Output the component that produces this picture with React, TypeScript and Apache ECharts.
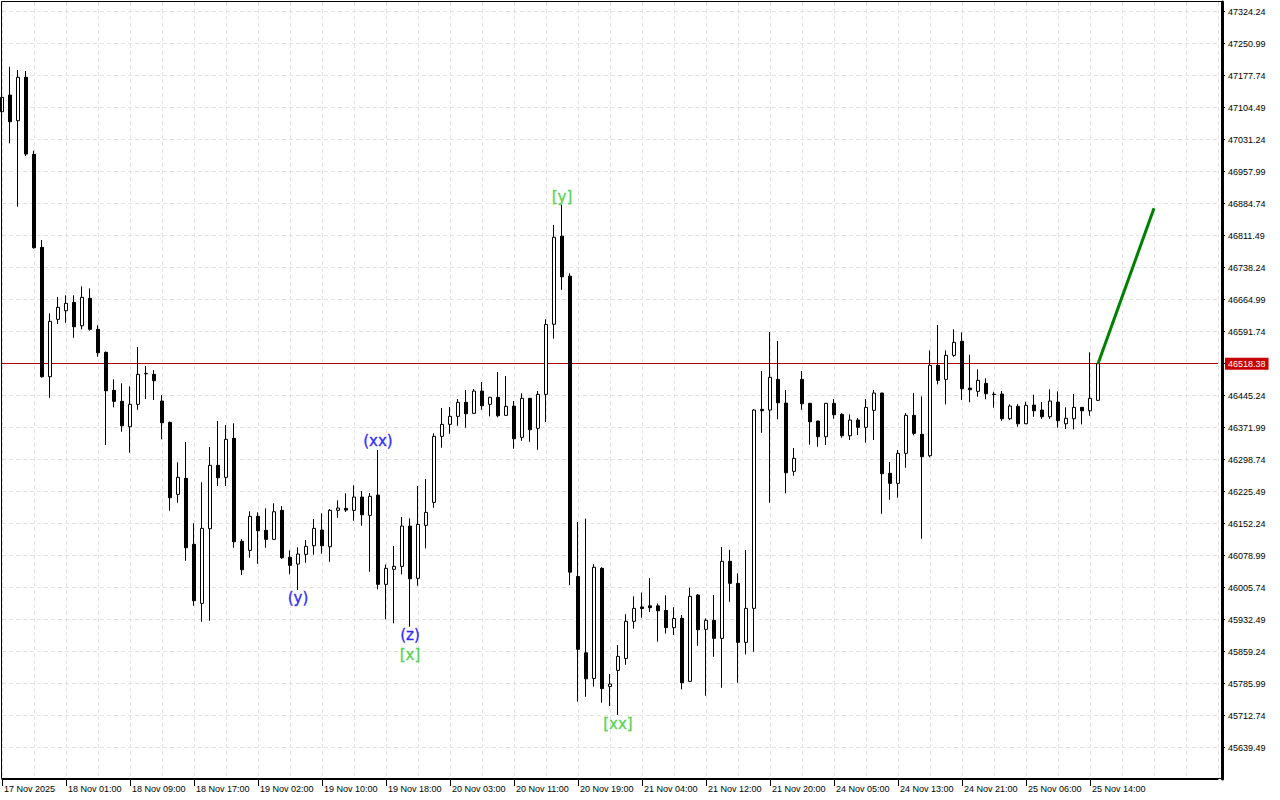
import React, { useEffect, useRef } from "react";
import * as echarts from "echarts";

// ---- time axis ----
const tickLabels = [
  "17 Nov 2025", "18 Nov 01:00", "18 Nov 09:00", "18 Nov 17:00", "19 Nov 02:00", "19 Nov 10:00",
  "19 Nov 18:00", "20 Nov 03:00", "20 Nov 11:00", "20 Nov 19:00", "21 Nov 04:00", "21 Nov 12:00",
  "21 Nov 20:00", "24 Nov 05:00", "24 Nov 13:00", "24 Nov 21:00", "25 Nov 06:00", "25 Nov 14:00",
];
const BARS_PER_TICK = 8;
const SLOT_COUNT = 153; // visible hourly slots incl. empty space to the right

// ---- price axis ----
const priceTicks = [
  45639.49, 45712.74, 45785.99, 45859.24, 45932.49, 46005.74, 46078.99, 46152.24,
  46225.49, 46298.74, 46371.99, 46445.24, 46518.49, 46591.74, 46664.99, 46738.24,
  46811.49, 46884.74, 46957.99, 47031.24, 47104.49, 47177.74, 47250.99, 47324.24,
];
const priceMin = 45567.85;
const priceMax = 47346.44;

// ---- OHLC (H1) ----
const opens = [
  47095.22, 47133.45, 47074.62, 47173.97, 46997.71, 46784.83, 46488.62, 46620.01, 46639.70, 46658.93,
  46605.36, 46668.08, 46597.12, 46544.48, 46457.49, 46432.31, 46374.17, 46425.44, 46495.26, 46494.12,
  46433.00, 46384.24, 46219.43, 46256.05, 46104.98, 45969.92, 46140.69, 46285.81, 46258.34, 46347.62,
  46111.84, 46091.24, 46169.07, 46137.02, 46116.42, 46182.80, 46075.22, 46059.88, 46082.08, 46101.77,
  46137.71, 46099.48, 46182.80, 46187.38, 46182.80, 46213.25, 46171.36, 46217.83, 46013.41, 46047.75,
  46054.62, 46146.87, 46027.15, 46148.47, 46201.12, 46352.19, 46379.66, 46397.98, 46430.02, 46404.84,
  46455.89, 46425.44, 46441.47, 46400.26, 46421.55, 46349.91, 46439.18, 46370.51, 46448.33, 46608.80,
  46810.46, 46718.90, 46031.50, 45856.61, 45798.01, 46050.04, 45779.47, 45816.55, 45843.79, 45928.72,
  45961.68, 45964.20, 45964.20, 45953.67, 45914.30, 45935.59, 45791.37, 45988.92, 45910.41, 45931.01,
  45889.80, 46066.06, 46015.70, 45880.65, 45958.48, 46414.00, 46412.40, 46482.67, 46428.42, 46272.08,
  46482.67, 46427.73, 46387.22, 46351.28, 46427.73, 46402.55, 46353.57, 46389.51, 46372.80, 46411.71,
  46451.31, 46267.50, 46244.61, 46313.28, 46400.26, 46356.77, 46307.79, 46514.72, 46482.67, 46537.61,
  46569.65, 46462.76, 46455.20, 46473.51, 46448.79, 46449.02, 46392.48, 46420.87, 46381.04, 46423.84,
  46412.40, 46397.06, 46430.71, 46381.04, 46392.48, 46418.58, 46410.79, 46434.60,
];
const closes = [
  47128.19, 47072.33, 47173.97, 46998.40, 46783.91, 46488.62, 46615.44, 46647.48, 46656.64, 46603.08,
  46670.37, 46597.12, 46543.56, 46456.58, 46432.31, 46376.46, 46425.44, 46494.12, 46496.40, 46479.47,
  46383.33, 46211.65, 46258.34, 46097.19, 45975.87, 46141.60, 46285.81, 46257.43, 46345.33, 46110.93,
  46046.83, 46169.07, 46136.11, 46116.42, 46179.60, 46074.30, 46056.91, 46082.77, 46100.40, 46141.60,
  46101.77, 46182.80, 46188.07, 46183.49, 46213.25, 46172.73, 46214.85, 46013.41, 46050.04, 46054.62,
  46146.87, 46026.23, 46150.76, 46178.23, 46352.19, 46379.66, 46397.98, 46430.02, 46403.93, 46455.89,
  46422.24, 46441.47, 46399.35, 46420.87, 46346.70, 46439.18, 46367.30, 46448.33, 46608.11, 46807.95,
  46717.30, 46041.34, 45864.62, 45797.10, 46052.56, 45774.66, 45785.19, 45848.60, 45928.72, 45958.48,
  45957.79, 45960.08, 45952.98, 45914.30, 45935.36, 45788.17, 45985.94, 45909.49, 45931.01, 45889.80,
  46066.06, 46015.70, 45880.65, 45958.48, 46412.40, 46410.79, 46487.25, 46429.11, 46268.87, 46301.84,
  46426.82, 46385.61, 46351.28, 46427.73, 46401.64, 46353.57, 46389.51, 46372.80, 46418.58, 46451.31,
  46266.58, 46244.61, 46313.28, 46400.26, 46359.06, 46305.50, 46514.72, 46480.38, 46537.61, 46567.37,
  46461.15, 46458.86, 46480.38, 46449.71, 46447.88, 46392.48, 46421.55, 46381.04, 46423.16, 46410.79,
  46397.06, 46433.00, 46387.90, 46393.40, 46418.58, 46410.79, 46439.18, 46518.38,
];
const lows = [
  47087.67, 47022.89, 46877.76, 46993.82, 46782.08, 46486.79, 46440.55, 46609.26, 46612.23, 46577.90,
  46597.12, 46594.38, 46534.40, 46332.28, 46418.58, 46362.72, 46314.65, 46413.08, 46437.58, 46435.29,
  46345.33, 46181.89, 46200.20, 46067.44, 45964.43, 45927.80, 45930.09, 46238.43, 46238.43, 46097.19,
  46034.70, 46074.30, 46060.57, 46097.19, 46114.82, 46072.01, 46036.30, 46000.37, 46062.86, 46081.17,
  46083.46, 46065.15, 46165.86, 46178.91, 46159.00, 46147.55, 46042.26, 46001.97, 45933.30, 45924.14,
  46036.30, 45916.36, 46010.21, 46095.82, 46188.76, 46326.10, 46358.15, 46376.46, 46371.88, 46403.24,
  46413.08, 46397.98, 46395.69, 46399.12, 46323.81, 46342.12, 46339.83, 46321.52, 46384.93, 46576.06,
  46687.54, 46011.58, 45744.91, 45756.12, 45779.47, 45742.62, 45734.61, 45714.46, 45829.37, 45912.01,
  45936.96, 45949.78, 45882.25, 45900.79, 45897.59, 45773.06, 45789.77, 45872.87, 45758.41, 45847.69,
  45776.72, 45973.58, 45788.17, 45853.18, 45859.13, 46360.43, 46200.20, 46391.11, 46221.72, 46262.01,
  46413.08, 46332.97, 46328.39, 46332.28, 46392.48, 46348.99, 46343.72, 46355.17, 46337.54, 46343.72,
  46175.02, 46207.07, 46211.65, 46280.32, 46354.48, 46117.79, 46304.12, 46471.23, 46425.44, 46534.40,
  46435.29, 46430.02, 46442.84, 46436.89, 46417.66, 46387.90, 46389.51, 46374.17, 46380.35, 46397.06,
  46391.79, 46391.79, 46371.88, 46368.90, 46368.22, 46379.66, 46399.35, 46434.14,
];
const highs = [
  47140.32, 47198.23, 47190.68, 47188.39, 47005.95, 46801.54, 46633.75, 46671.06, 46674.95, 46674.95,
  46695.55, 46690.98, 46606.28, 46546.31, 46482.67, 46473.51, 46466.65, 46556.61, 46513.12, 46503.96,
  46446.73, 46386.07, 46292.68, 46339.15, 46153.05, 46246.90, 46327.70, 46387.22, 46378.06, 46381.95,
  46117.11, 46180.51, 46178.23, 46187.38, 46198.83, 46192.65, 46091.24, 46098.11, 46114.82, 46162.89,
  46175.94, 46185.78, 46205.69, 46221.72, 46240.03, 46226.98, 46222.40, 46320.83, 46059.19, 46101.08,
  46167.47, 46164.49, 46238.43, 46254.45, 46359.06, 46416.97, 46419.26, 46437.58, 46458.18, 46460.47,
  46476.49, 46442.61, 46499.38, 46490.22, 46433.00, 46450.62, 46440.32, 46455.89, 46620.24, 46836.10,
  46882.57, 46725.31, 46156.02, 46164.03, 46059.65, 46052.56, 45808.31, 45874.24, 45944.97, 45985.94,
  45994.64, 46027.61, 45969.69, 45988.23, 45960.99, 45943.14, 46005.63, 45991.21, 45935.59, 45988.92,
  46098.80, 46092.61, 46038.59, 46091.93, 46414.69, 46501.67, 46590.94, 46570.34, 46458.18, 46325.41,
  46501.67, 46428.88, 46387.67, 46428.88, 46437.58, 46404.84, 46402.55, 46394.08, 46437.58, 46458.18,
  46451.77, 46293.37, 46320.83, 46405.53, 46451.31, 46443.76, 46549.05, 46606.97, 46549.05, 46597.12,
  46590.26, 46538.98, 46505.56, 46484.96, 46454.29, 46455.89, 46425.44, 46426.13, 46431.40, 46447.42,
  46430.71, 46459.78, 46455.20, 46418.58, 46449.02, 46419.26, 46544.48, 46518.38,
];

// ---- projection line ----
const forecastIndex = [137, 144];
const forecastValues = [46518.38, 46874.2];

// ---- wave labels ----
const waveTexts = ["(xx)", "(y)", "(z)", "[x]", "[y]", "[xx]"];
const waveBars = [47, 37, 51, 51, 70, 77];
const waveAnchors = ["high", "low", "low", "low", "high", "low"];

const BLUE = "#0000ff";
const GREEN = "#32cd32";
const waveStyle: Record<string, { color: string; distance: number }> = {
  "(xx)": { color: BLUE, distance: 1 },
  "(y)": { color: BLUE, distance: 0 },
  "(z)": { color: BLUE, distance: 0 },
  "[x]": { color: GREEN, distance: 20 },
  "[y]": { color: GREEN, distance: 0 },
  "[xx]": { color: GREEN, distance: 1 },
};

const AXIS_FONT = "'Liberation Sans', Arial, sans-serif";

export default function App() {
  const ref = useRef<HTMLDivElement>(null);

  useEffect(() => {
    if (!ref.current) return;
    const chart = echarts.init(ref.current, undefined, { renderer: "svg" });

    const categories = Array.from({ length: SLOT_COUNT }, (_, i) => String(i));
    const ohlc = opens.map((o, i) => [o, closes[i], lows[i], highs[i]]);
    const lastClose = closes[closes.length - 1];
    const isTimeTick = (i: number) =>
      i % BARS_PER_TICK === 0 && i / BARS_PER_TICK < tickLabels.length;

    const waveData = waveTexts.map((t, i) => {
      const idx = waveBars[i];
      const isHigh = waveAnchors[i] === "high";
      const st = waveStyle[t];
      return {
        value: [idx, isHigh ? highs[idx] : lows[idx]],
        label: {
          show: true,
          formatter: t,
          position: isHigh ? "top" : "bottom",
          distance: st.distance,
          color: st.color,
          textBorderColor: st.color,
          textBorderWidth: 0.4,
        },
      };
    });

    const gridLeft = 2;
    const gridTop = 2;
    const slotPx = 8;
    const gridWidth = slotPx * (SLOT_COUNT - 1);
    const gridHeight = 777;

    chart.setOption({
      animation: false,
      backgroundColor: "#ffffff",
      grid: {
        left: gridLeft,
        top: gridTop,
        width: gridWidth,
        height: gridHeight,
        containLabel: false,
        outerBoundsMode: "none",
      },
      xAxis: {
        type: "category",
        data: categories,
        boundaryGap: false,
        axisLine: { show: true, lineStyle: { color: "#000", width: 1 } },
        axisTick: {
          show: true,
          interval: (i: number) => isTimeTick(i),
          length: 7,
          lineStyle: { color: "#000" },
        },
        axisLabel: {
          show: true,
          interval: (i: number) => isTimeTick(i),
          align: "left",
          margin: 5,
          padding: [0, 0, 0, 2],
          fontFamily: AXIS_FONT,
          fontSize: 9,
          color: "#000",
          hideOverlap: false,
          formatter: (_v: string, i: number) =>
            isTimeTick(i) ? tickLabels[i / BARS_PER_TICK] : "",
        },
        splitLine: {
          show: true,
          interval: 3,
          lineStyle: { color: "#e3e3e3", type: [4, 3], width: 1 },
        },
      },
      yAxis: {
        type: "value",
        position: "right",
        offset: 4,
        min: priceMin,
        max: priceMax,
        scale: true,
        axisLine: { show: true, lineStyle: { color: "#000", width: 3 } },
        axisTick: { show: true, length: 3, customValues: priceTicks, lineStyle: { color: "#000" } },
        axisLabel: {
          show: true,
          customValues: priceTicks.filter((p) => Math.abs(p - lastClose) > 20),
          margin: 6,
          fontFamily: AXIS_FONT,
          fontSize: 9,
          color: "#000",
          formatter: (v: number) => v.toFixed(2),
        },
        splitLine: {
          show: true,
          lineStyle: { color: "#e3e3e3", type: [4, 3], width: 1 },
        },
      },
      series: [
        {
          type: "line",
          data: [],
          z: 1,
          markLine: {
            silent: true,
            z: 1,
            symbol: ["none", "none"],
            lineStyle: { color: "#b40000", width: 1, type: "solid" },
            label: {
              show: true,
              position: "end",
              distance: 7,
              formatter: () => lastClose.toFixed(2),
              backgroundColor: "#c80000",
              color: "#ffffff",
              padding: [2, 3, 1, 3],
              fontFamily: AXIS_FONT,
              fontSize: 9,
            },
            data: [{ yAxis: lastClose }],
          },
        },
        {
          type: "candlestick",
          z: 2,
          barWidth: 4,
          data: ohlc,
          itemStyle: {
            color: "#ffffff",
            color0: "#000000",
            borderColor: "#000000",
            borderColor0: "#000000",
            borderColorDoji: "#000000",
            borderWidth: 1,
          },
        },
        {
          type: "line",
          z: 3,
          data: forecastIndex.map((x, i) => [x, forecastValues[i]]),
          symbol: "none",
          lineStyle: { color: "#008000", width: 3 },
        },
        {
          type: "scatter",
          z: 4,
          symbolSize: 1,
          itemStyle: { color: "rgba(0,0,0,0)" },
          label: { fontFamily: "'DejaVu Sans', sans-serif", fontSize: 15 },
          data: waveData,
        },
      ],
      graphic: [
        {
          type: "rect",
          silent: true,
          z: 100,
          shape: { x: 1.5, y: 1.5, width: gridWidth + 4, height: gridHeight },
          style: { fill: "none", stroke: "#000", lineWidth: 1 },
        },
      ],
    });

    return () => chart.dispose();
  }, []);

  return (
    <div
      ref={ref}
      style={{ position: "absolute", left: 0, top: 0, width: 1280, height: 800, background: "#fff" }}
    />
  );
}
